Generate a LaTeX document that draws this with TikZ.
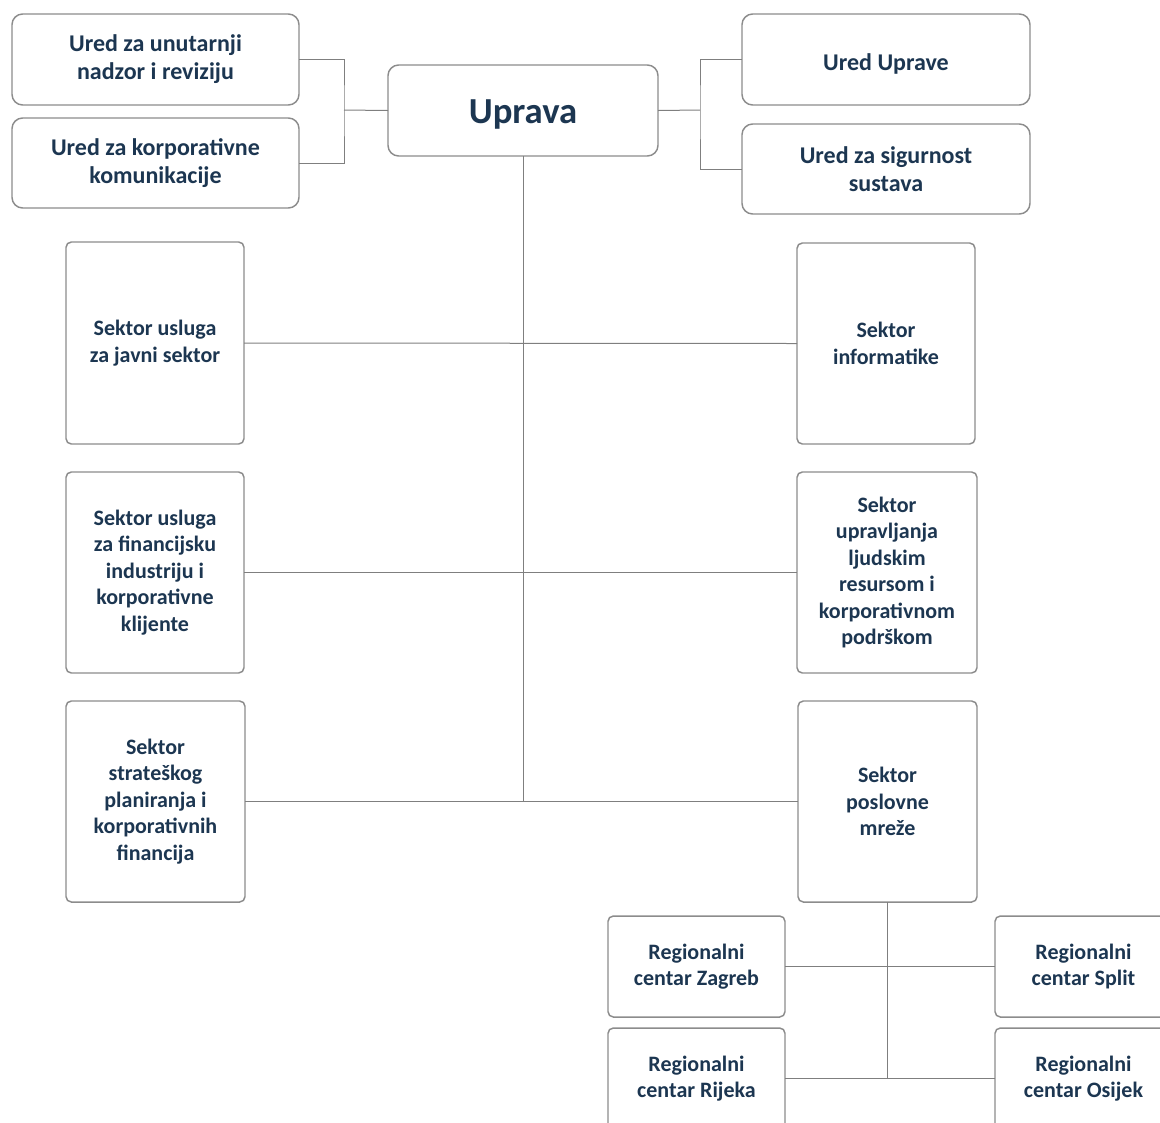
\documentclass[tikz,border=0pt]{standalone}
\usepackage{fontspec}
\setmainfont{Carlito}
\begin{document}
\begin{tikzpicture}[x=0.75pt,y=-0.75pt,
  bx/.style 2 args={draw=boxgray, line width=1.1pt, fill=white, minimum width=#1*0.75pt, minimum height=#2*0.75pt, inner sep=0pt, outer sep=0pt, align=center, text=txtblue, font=\bfseries\fontsize{16.5}{19.8}\selectfont},
  topbox/.style={rounded corners=8pt, font=\bfseries\fontsize{18}{21}\selectfont},
  secbox/.style={rounded corners=4pt},
  conn/.style={draw=linegray, line width=0.75pt}]
\definecolor{boxgray}{HTML}{8C8C8C}
\definecolor{linegray}{HTML}{7F7F7F}
\definecolor{txtblue}{HTML}{1C3651}
\useasboundingbox (0,0) rectangle (1160,1122);
\clip (0,0) rectangle (1160,1122);
\coordinate (lb) at (344,110);
\coordinate (rb) at (700,110);
\node[bx={287}{91}, topbox] (u1) at (155.5,59.5) {Ured za unutarnji\\nadzor i reviziju};
\node[bx={287}{90}, topbox] (u2) at (155.5,163) {Ured za korporativne\\komunikacije};
\node[bx={270}{91}, topbox, font=\bfseries\fontsize{27.5}{32}\selectfont, text height=26pt, text depth=6pt] (up) at (523,110.5) {Uprava};
\node[bx={288}{91}, topbox, text height=20pt, text depth=4pt] (u3) at (886,59.5) {Ured Uprave};
\node[bx={288}{90}, topbox] (u4) at (886,169) {Ured za sigurnost\\sustava};
\node[bx={178}{202}, secbox] (s1) at (155,343) {Sektor usluga\\za javni sektor};
\node[bx={178}{201}, secbox] (s2) at (886,343.5) {Sektor\\informatike};
\node[bx={178}{201}, secbox] (s3) at (155,572.5) {Sektor usluga\\za financijsku\\industriju i\\korporativne\\klijente};
\node[bx={180}{201}, secbox] (s4) at (887,572.5) {Sektor\\upravljanja\\ljudskim\\resursom i\\korporativnom\\podrškom};
\node[bx={179}{201}, secbox] (s5) at (155.5,801.5) {Sektor\\strateškog\\planiranja i\\korporativnih\\financija};
\node[bx={179}{201}, secbox] (s6) at (887.5,801.5) {Sektor\\poslovne\\mreže};
\node[bx={177}{101}, secbox] (r1) at (696.5,966.5) {Regionalni\\centar Zagreb};
\node[bx={177}{101}, secbox] (r2) at (1083.5,966.5) {Regionalni\\centar Split};
\node[bx={177}{101}, secbox] (r3) at (696.5,1078.5) {Regionalni\\centar Rijeka};
\node[bx={177}{101}, secbox] (r4) at (1083.5,1078.5) {Regionalni\\centar Osijek};
\path[conn] (u1.east) -| (lb) |- (u2.east);
\path[conn] (lb) -- (up.west);
\path[conn] (up.east) -- (rb);
\path[conn] (u3.west) -| (rb) |- (u4.west);
\path[conn] (up.south) -- (up.south |- s5.east);
\path[conn] (s1.east) -- (s2.west);
\path[conn] (s3.east) -- (s4.west);
\path[conn] (s5.east) -- (s6.west);
\path[conn] (s6.south) -- (s6.south |- r3.east);
\path[conn] (r1.east) -- (r2.west);
\path[conn] (r3.east) -- (r4.west);
\end{tikzpicture}
\end{document}
